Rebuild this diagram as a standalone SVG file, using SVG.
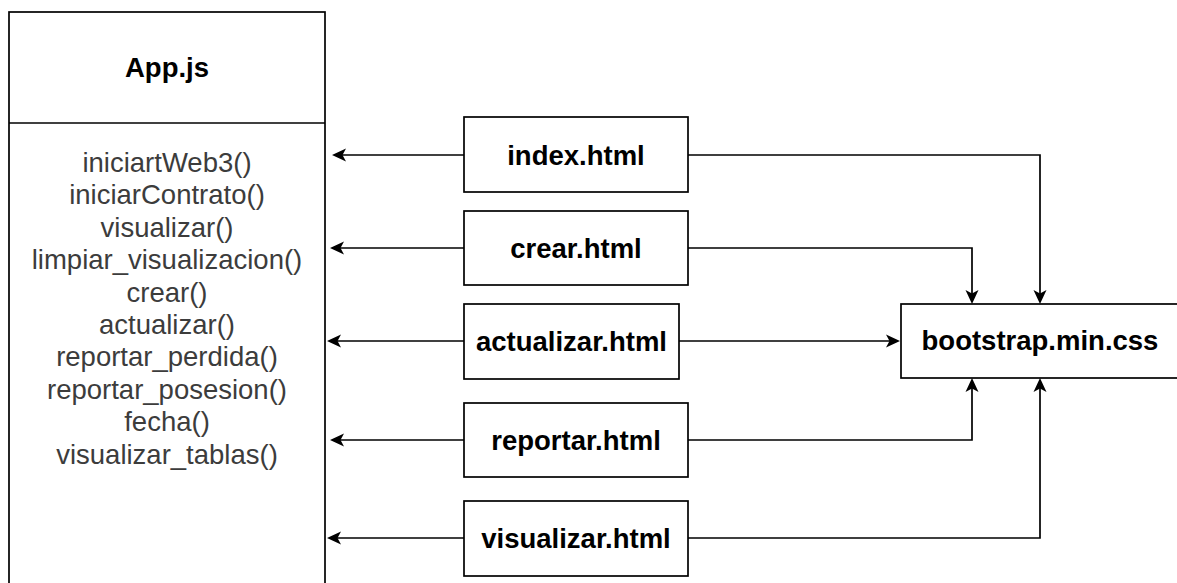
<svg xmlns="http://www.w3.org/2000/svg" width="1177" height="583" viewBox="0 0 1177 583">
  <style>
    .box { fill: #ffffff; stroke: #000000; stroke-width: 1.7; }
    .label { font-family: "Liberation Sans", Arial, sans-serif; font-weight: bold; font-size: 27.5px; fill: #000000; text-anchor: middle; }
    .method { font-family: "Liberation Sans", Arial, sans-serif; font-size: 27.5px; fill: #3c3c3c; text-anchor: middle; }
    .edge { fill: none; stroke: #000000; stroke-width: 1.7; marker-end: url(#arrow); }
  </style>
  <defs>
    <!-- classic notched arrowhead; the path stops 4px short of the tip -->
    <marker id="arrow" viewBox="-12 -8 18 16" refX="0" refY="0" markerWidth="18" markerHeight="16" markerUnits="userSpaceOnUse" orient="auto">
      <path d="M4,0 L-10,-6.5 L-6.5,0 L-10,6.5 Z" fill="#000000"/>
    </marker>
  </defs>
  <rect width="1177" height="583" fill="#ffffff"/>

  <!-- App.js class box -->
  <g id="app-js">
    <rect class="box" x="9" y="12" width="316" height="600"/>
    <line x1="9" y1="123" x2="325" y2="123" stroke="#000000" stroke-width="1.7"/>
    <text class="label" x="167" y="77">App.js</text>
    <text class="method" x="167" y="172">iniciartWeb3()</text>
    <text class="method" x="167" y="204.4">iniciarContrato()</text>
    <text class="method" x="167" y="236.8">visualizar()</text>
    <text class="method" x="167" y="269.2">limpiar_visualizacion()</text>
    <text class="method" x="167" y="301.6">crear()</text>
    <text class="method" x="167" y="334">actualizar()</text>
    <text class="method" x="167" y="366.4">reportar_perdida()</text>
    <text class="method" x="167" y="398.8">reportar_posesion()</text>
    <text class="method" x="167" y="431.2">fecha()</text>
    <text class="method" x="167" y="463.6">visualizar_tablas()</text>
  </g>

  <g id="index-html">
    <rect class="box" x="464" y="117" width="224" height="75"/>
    <text class="label" x="576" y="165">index.html</text>
  </g>

  <g id="crear-html">
    <rect class="box" x="464" y="211" width="224" height="74"/>
    <text class="label" x="576" y="258">crear.html</text>
  </g>

  <g id="actualizar-html">
    <rect class="box" x="464" y="304" width="215" height="75"/>
    <text class="label" x="571.5" y="351">actualizar.html</text>
  </g>

  <g id="reportar-html">
    <rect class="box" x="464" y="403" width="224" height="74"/>
    <text class="label" x="576" y="450">reportar.html</text>
  </g>

  <g id="visualizar-html">
    <rect class="box" x="464" y="501" width="224" height="75"/>
    <text class="label" x="576" y="548">visualizar.html</text>
  </g>

  <g id="bootstrap-css">
    <rect class="box" x="901" y="304" width="278" height="74"/>
    <text class="label" x="1040" y="350">bootstrap.min.css</text>
  </g>

  <g id="connectors">
    <!-- pages to App.js -->
    <path class="edge" d="M464,155 L336,155"/>
    <path class="edge" d="M464,248 L334,248"/>
    <path class="edge" d="M464,341 L331,341"/>
    <path class="edge" d="M464,440 L334,440"/>
    <path class="edge" d="M464,538 L331,538"/>
    <!-- pages to bootstrap.min.css -->
    <path class="edge" d="M688,155 L1040,155 L1040,300"/>
    <path class="edge" d="M688,248 L972,248 L972,300"/>
    <path class="edge" d="M679,341 L896,341"/>
    <path class="edge" d="M688,440 L972,440 L972,382"/>
    <path class="edge" d="M688,538 L1040,538 L1040,382"/>
  </g>
</svg>
